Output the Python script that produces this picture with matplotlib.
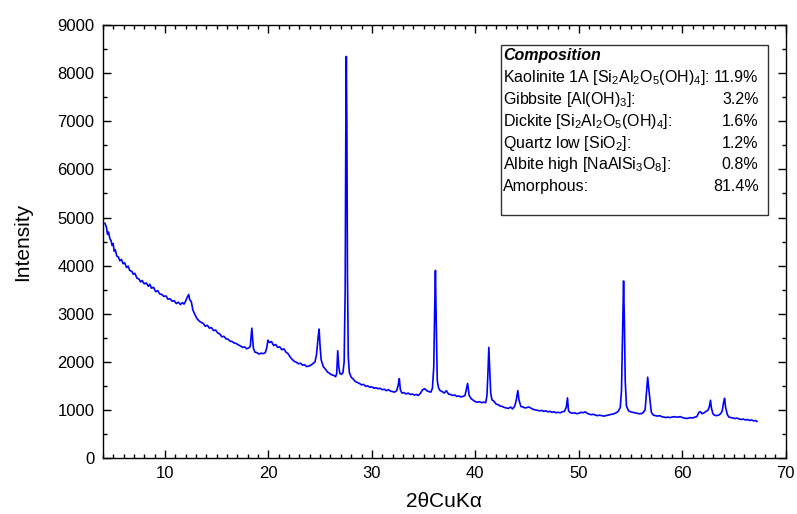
import matplotlib
matplotlib.use("Agg")
import matplotlib.pyplot as plt
from matplotlib.ticker import MultipleLocator
from matplotlib.patches import Rectangle

plt.rcParams['font.family'] = ['Liberation Sans', 'DejaVu Sans']
plt.rcParams['mathtext.fontset'] = 'custom'
plt.rcParams['mathtext.rm'] = 'Liberation Sans'
plt.rcParams['mathtext.it'] = 'Liberation Sans:italic'
plt.rcParams['mathtext.default'] = 'regular'

# diffraction pattern
two_theta = [
    4.20, 4.35, 4.45, 4.55, 4.68, 4.80, 4.90, 5.00, 5.10, 5.20, 5.35, 5.50, 5.65, 5.80, 5.95,
    6.10, 6.30, 6.45, 6.60, 6.80, 6.95, 7.10, 7.30, 7.50, 7.65, 7.80, 8.00, 8.20, 8.40, 8.55,
    8.70, 8.90, 9.10, 9.30, 9.50, 9.70, 9.90, 10.10, 10.30, 10.50, 10.70, 10.90, 11.10, 11.30,
    11.50, 11.70, 11.85, 12.00, 12.15, 12.30, 12.40, 12.55, 12.70, 12.90, 13.10, 13.30, 13.50,
    13.70, 13.90, 14.10, 14.30, 14.50, 14.70, 14.90, 15.10, 15.30, 15.50, 15.70, 15.90, 16.10,
    16.30, 16.50, 16.70, 16.90, 17.10, 17.30, 17.50, 17.70, 17.90, 18.10, 18.25, 18.40, 18.55,
    18.70, 18.90, 19.10, 19.30, 19.50, 19.70, 19.85, 19.95, 20.10, 20.30, 20.50, 20.70, 20.90,
    21.10, 21.30, 21.50, 21.70, 21.90, 22.10, 22.30, 22.50, 22.70, 22.90, 23.10, 23.30, 23.50,
    23.70, 23.90, 24.10, 24.30, 24.50, 24.65, 24.80, 24.90, 25.00, 25.10, 25.30, 25.50, 25.70,
    25.90, 26.10, 26.30, 26.50, 26.60, 26.70, 26.80, 26.90, 27.05, 27.20, 27.32, 27.42, 27.48,
    27.53, 27.58, 27.64, 27.72, 27.82, 28.00, 28.20, 28.40, 28.60, 28.80, 29.00, 29.20, 29.40,
    29.60, 29.80, 30.00, 30.20, 30.40, 30.60, 30.80, 31.00, 31.20, 31.40, 31.60, 31.80, 32.00,
    32.20, 32.40, 32.55, 32.65, 32.75, 32.90, 33.10, 33.30, 33.50, 33.70, 33.90, 34.10, 34.30,
    34.50, 34.70, 34.90, 35.10, 35.30, 35.50, 35.70, 35.85, 35.98, 36.06, 36.14, 36.22, 36.32,
    36.45, 36.60, 36.80, 37.00, 37.20, 37.40, 37.60, 37.80, 38.00, 38.20, 38.40, 38.60, 38.80,
    39.00, 39.15, 39.25, 39.40, 39.60, 39.80, 40.00, 40.20, 40.40, 40.60, 40.80, 41.00, 41.12,
    41.22, 41.30, 41.38, 41.48, 41.60, 41.80, 42.00, 42.20, 42.40, 42.60, 42.80, 43.00, 43.20,
    43.40, 43.60, 43.80, 43.95, 44.10, 44.22, 44.40, 44.60, 44.80, 45.00, 45.20, 45.40, 45.60,
    45.80, 46.00, 46.20, 46.40, 46.60, 46.80, 47.00, 47.20, 47.40, 47.60, 47.80, 48.00, 48.20,
    48.40, 48.60, 48.78, 48.90, 49.00, 49.20, 49.40, 49.60, 49.80, 50.00, 50.20, 50.40, 50.60,
    50.80, 51.00, 51.20, 51.40, 51.60, 51.80, 52.00, 52.20, 52.40, 52.60, 52.80, 53.00, 53.20,
    53.40, 53.60, 53.80, 54.00, 54.12, 54.22, 54.32, 54.40, 54.48, 54.60, 54.80, 55.00, 55.20,
    55.40, 55.60, 55.80, 56.00, 56.20, 56.40, 56.55, 56.65, 56.75, 56.85, 57.00, 57.20, 57.40,
    57.60, 57.80, 58.00, 58.20, 58.40, 58.60, 58.80, 59.00, 59.20, 59.40, 59.60, 59.80, 60.00,
    60.20, 60.40, 60.60, 60.80, 61.00, 61.20, 61.40, 61.60, 61.75, 61.90, 62.10, 62.30, 62.50,
    62.62, 62.72, 62.80, 62.95, 63.10, 63.30, 63.50, 63.70, 63.85, 63.98, 64.08, 64.18, 64.35,
    64.50, 64.70, 64.90, 65.10, 65.30, 65.50, 65.70, 65.90, 66.10, 66.30, 66.50, 66.70, 66.90,
    67.10, 67.20,
]
intensity = [
    4880, 4800, 4650, 4700, 4560, 4520, 4420, 4460, 4300, 4330, 4200, 4180, 4100, 4130, 4040,
    4060, 3960, 3990, 3900, 3880, 3820, 3840, 3740, 3720, 3660, 3690, 3620, 3640, 3570, 3610,
    3530, 3550, 3460, 3480, 3410, 3400, 3360, 3370, 3300, 3310, 3260, 3270, 3210, 3240,
    3190, 3230, 3200, 3260, 3340, 3400, 3290, 3250, 3080, 2980, 2900, 2850, 2820,
    2800, 2740, 2760, 2700, 2710, 2650, 2660, 2600, 2580, 2520, 2530, 2480, 2470,
    2430, 2420, 2390, 2380, 2350, 2330, 2300, 2310, 2270, 2290, 2320, 2700, 2280,
    2200, 2190, 2160, 2180, 2170, 2190, 2300, 2450, 2400, 2420, 2340, 2360, 2300,
    2310, 2250, 2270, 2200, 2170, 2100, 2050, 2010, 1990, 1960, 1970, 1930, 1940,
    1900, 1910, 1930, 1960, 2000, 2150, 2500, 2680, 2300, 2040, 1900, 1850, 1790,
    1760, 1730, 1720, 1690, 1760, 2230, 1900, 1760, 1740, 1770, 2000, 3500, 6800,
    8350, 7000, 3800, 2100, 1780, 1680, 1640, 1590, 1570, 1550, 1520, 1530, 1490,
    1500, 1470, 1480, 1450, 1460, 1440, 1450, 1420, 1430, 1400, 1420, 1390, 1380,
    1370, 1400, 1520, 1650, 1420, 1350, 1360, 1330, 1350, 1320, 1330, 1310, 1320,
    1300, 1350, 1420, 1440, 1400, 1380, 1370, 1450, 1900, 3000, 3900, 2800, 1600,
    1450, 1400, 1380, 1350, 1400, 1330, 1320, 1300, 1310, 1280, 1290, 1270, 1280,
    1300, 1450, 1550, 1300, 1230, 1200, 1170, 1160, 1170, 1150, 1160, 1150, 1300,
    1800, 2300, 1900, 1350, 1210, 1180, 1120, 1110, 1080, 1070, 1050, 1040, 1030,
    1060, 1020, 1080, 1200, 1400, 1200, 1070, 1060, 1040, 1050, 1060, 1030, 1010,
    1000, 990, 980, 990, 970, 980, 960, 970, 950, 960, 940, 950, 940,
    960, 970, 1050, 1250, 980, 940, 930, 940, 920, 930, 950, 940, 960,
    930, 910, 900, 910, 890, 880, 890, 880, 870, 880, 890, 900, 910,
    920, 940, 970, 1050, 1400, 2500, 3680, 2800, 1600, 1080, 980, 960, 950,
    940, 930, 920, 920, 940, 1000, 1400, 1680, 1450, 1250, 950, 890, 880,
    870, 880, 860, 850, 840, 850, 840, 850, 860, 850, 850, 860, 840,
    830, 820, 830, 840, 830, 850, 860, 950, 960, 920, 940, 970, 1000,
    1080, 1200, 1050, 920, 890, 880, 890, 920, 980, 1150, 1240, 1050, 900,
    850, 840, 830, 820, 830, 810, 800, 810, 790, 800, 780, 790, 770,
    780, 760,
]

phases = ['Kaolinite 1A [Si$_2$Al$_2$O$_5$(OH)$_4$]:',
          'Gibbsite [Al(OH)$_3$]:',
          'Dickite [Si$_2$Al$_2$O$_5$(OH)$_4$]:',
          'Quartz low [SiO$_2$]:',
          'Albite high [NaAlSi$_3$O$_8$]:',
          'Amorphous:']
fractions = [11.9, 3.2, 1.6, 1.2, 0.8, 81.4]

fig, ax = plt.subplots(figsize=(7.97, 5.14), dpi=100)
fig.subplots_adjust(left=0.129, right=0.986, bottom=0.109, top=0.951)

ax.plot(two_theta, intensity, color='#0000ff', linewidth=1.2)

ax.set_xlim(4, 70)
ax.set_ylim(0, 9000)
ax.xaxis.set_major_locator(MultipleLocator(10))
ax.xaxis.set_minor_locator(MultipleLocator(1))
ax.yaxis.set_major_locator(MultipleLocator(1000))
ax.yaxis.set_minor_locator(MultipleLocator(500))
ax.tick_params(which='both', direction='in', top=True, right=True, labelsize=12, width=1.0)
ax.tick_params(which='major', length=6, pad=6)
ax.tick_params(which='minor', length=3)
for s in ax.spines.values():
    s.set_linewidth(1.0)
ax.set_xlabel('2θCuKα', fontsize=15, labelpad=8)
ax.set_ylabel('Intensity', fontsize=15, labelpad=18)

# composition box
ax.add_patch(Rectangle((0.583, 0.561), 0.391, 0.393, transform=ax.transAxes,
                       facecolor='white', edgecolor='#333333', linewidth=1.0, zorder=3))
ax.text(0.586, 0.931, 'Composition', transform=ax.transAxes, fontsize=11.5,
        fontweight='bold', fontstyle='italic', va='center', zorder=4)
for i, (name, frac) in enumerate(zip(phases, fractions)):
    yy = 0.879 - i * 0.0505
    ax.text(0.586, yy, name, transform=ax.transAxes, fontsize=11.5, va='center', zorder=4)
    ax.text(0.960, yy, f'{frac:.1f}%', transform=ax.transAxes, fontsize=11.5,
            va='center', ha='right', zorder=4)

fig.savefig('out.png', dpi=100)
